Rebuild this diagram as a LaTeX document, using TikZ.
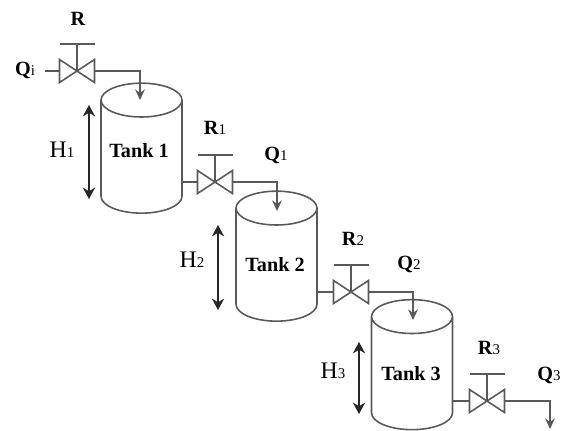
\documentclass[tikz,border=0pt]{standalone}
\usepackage{fontspec}
\setmainfont{Liberation Serif}
\usetikzlibrary{shapes.geometric,arrows.meta}
\tikzset{
  tankbox/.style={draw=black!65,line width=0.9pt,cylinder,shape border rotate=90,aspect=0.57,
    minimum width=1.62cm,minimum height=2.6cm,inner sep=0pt,outer sep=0pt,font=\fontsize{11.5}{12}\selectfont\bfseries},
  valvebox/.style={inner sep=0pt,outer sep=0pt,minimum width=0.7cm,minimum height=0.46cm},
  lab/.style={font=\fontsize{11.5}{12}\selectfont\bfseries},
  hlab/.style={font=\fontsize{13.5}{14}\selectfont},
  pipe/.style={draw=black!65,line width=0.9pt},
  flow/.style={pipe,-{Stealth[length=6pt,width=5.5pt]}},
  level/.style={black!85,line width=0.8pt,{Stealth[length=6.5pt,width=7pt]}-{Stealth[length=6.5pt,width=7pt]}}
}
\newcommand{\idx}[1]{{\mdseries\fontsize{8.5}{9}\selectfont #1}}
\begin{document}
\begin{tikzpicture}[x=0.02cm,y=-0.02cm]
\useasboundingbox (0,0) rectangle (563,430);

\node[tankbox] (tank1) at (141.5,157) {\phantom{Tank 1}};
\node[tankbox] (tank2) at (276.5,265) {\phantom{Tank 2}};
\node[tankbox] (tank3) at (412,373.5) {\phantom{Tank 3}};

\node[lab] (t1) at (139,151) {Tank 1};
\node[lab] (t2) at (275,265) {Tank 2};
\node[lab] (t3) at (411,374) {Tank 3};

\node[valvebox] (val) at (77,71) {};
\node[valvebox] (val1) at (215,182) {};
\node[valvebox] (val2) at (351,292) {};
\node[valvebox] (val3) at (487,401) {};

\coordinate (qin) at (45,71);
\coordinate (in1) at (140,100);
\coordinate (in2) at (277,211);
\coordinate (in3) at (413,320);
\coordinate (qout) at (550,429);

\node[lab] (r) at (78,19) {R};
\node[lab] (qi) at (25,70) {Q\idx{i}};
\node[lab] (r1) at (215,128) {R\idx{1}};
\node[lab] (q1) at (276,155) {Q\idx{1}};
\node[lab] (r2) at (353,239) {R\idx{2}};
\node[lab] (q2) at (409,264) {Q\idx{2}};
\node[lab] (r3) at (489,348) {R\idx{3}};
\node[lab] (q3) at (549,375) {Q\idx{3}};
\node[hlab] (h1) at (62,150) {H\idx{1}};
\node[hlab] (h2) at (192,260) {H\idx{2}};
\node[hlab] (h3) at (333,371) {H\idx{3}};

\foreach \v in {val,val1,val2,val3} {
  \draw[pipe] (\v.south west) -- (\v.north east) -- (\v.south east) -- (\v.north west) -- cycle;
  \draw[pipe] (\v.center) -- ++(0,-27) ++(-17.5,0) -- ++(35,0);
}

\draw[pipe] (qin) -- (val.west);
\draw[flow] (val.east) -| (in1);
\draw[pipe] (tank1.east |- val1) -- (val1.west);
\draw[flow] (val1.east) -| (in2);
\draw[pipe] (tank2.east |- val2) -- (val2.west);
\draw[flow] (val2.east) -| (in3);
\draw[pipe] (tank3.east |- val3) -- (val3.west);
\draw[flow] (val3.east) -| (qout);

\coordinate (h1a) at (89,105);
\coordinate (h1b) at (89,199);
\coordinate (h2a) at (218,225);
\coordinate (h2b) at (218,310);
\coordinate (h3a) at (359,342);
\coordinate (h3b) at (359,414);
\draw[level] (h1a) -- (h1b);
\draw[level] (h2a) -- (h2b);
\draw[level] (h3a) -- (h3b);
\end{tikzpicture}
\end{document}
